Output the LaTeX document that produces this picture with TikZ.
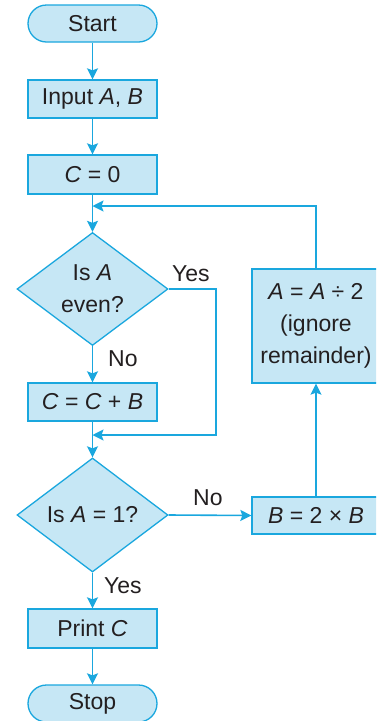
\documentclass[tikz,border=0pt]{standalone}
\usepackage{fontspec}
\setmainfont{Liberation Sans}
\usetikzlibrary{shapes.geometric,arrows.meta}
\definecolor{lineblue}{HTML}{1AA7DE}
\definecolor{fillblue}{HTML}{C6E7F5}
\definecolor{txt}{HTML}{231F20}
\tikzset{
  base/.style={draw=lineblue, fill=fillblue, line width=1.3pt, text=txt, font=\fontsize{23}{32}\selectfont, inner sep=0pt},
  procbox/.style={base, rectangle, minimum width=129pt, minimum height=38pt},
  termbox/.style={base, rectangle, rounded corners=18.5pt, minimum width=129pt, minimum height=37pt},
  decbox/.style={base, diamond, minimum width=151pt, minimum height=113pt, align=center},
  flow/.style={draw=lineblue, line width=1.6pt, -{Stealth[length=11pt,width=11pt,inset=2pt]}},
  plain/.style={draw=lineblue, line width=1.6pt},
  lbl/.style={text=txt, font=\fontsize{23}{32}\selectfont, inner sep=0pt, anchor=base west}
}
\newcommand{\vA}{\textit{A}}
\newcommand{\vB}{\textit{B}}
\newcommand{\vC}{\textit{C}}
\begin{document}
\begin{tikzpicture}[x=1pt,y=1pt]
\clip (0,0) rectangle (376,-721);
\node[termbox] (start) at (92.5,-23.5) {Start};
\node[procbox] (input) at (92.5,-99) {Input \vA, \vB};
\node[procbox, minimum height=39pt] (c0) at (92.5,-174.5) {\vC\ = 0};
\coordinate (m1) at (92.5,-206);
\node[decbox] (d1) at (92.5,-289) {Is \vA\\even?};
\node[procbox] (ccb) at (92.5,-402) {\vC\ = \vC\ + \vB};
\coordinate (m2) at (92.5,-435);
\node[decbox, minimum height=114pt] (d2) at (92.5,-515) {Is \vA\ = 1?};
\node[procbox, minimum height=39pt] (print) at (92.5,-628.5) {Print \vC};
\node[termbox] (stop) at (92.5,-703.5) {Stop};
\node[procbox, minimum width=128pt, minimum height=37pt] (bx) at (316,-515.5) {\vB\ = 2 × \vB};
\node[procbox, minimum width=128pt, minimum height=114pt, align=center] (ax) at (316,-326) {\vA\ = \vA\ ÷ 2\\(ignore\\remainder)};
\coordinate (yr) at (216,-435);

\draw[flow] (start) -- (input);
\draw[flow] (input) -- (c0);
\draw[flow] (c0) -- (d1);
\draw[flow] (d1) -- (ccb);
\draw[flow] (ccb) -- (d2);
\draw[flow] (d2) -- (print);
\draw[flow] (print) -- (stop);
\draw[flow] (d2.east) -- (bx.west);
\draw[flow] (bx.north) -- (ax.south);
\draw[flow] (ax.north) |- (m1);
\draw[flow] (d1.east) -| (yr) -- (m2);

\node[lbl] (yes1) at (172,-281) {Yes};
\node[lbl] (no1) at (108,-366.5) {No};
\node[lbl] (no2) at (193,-505) {No};
\node[lbl] (yes2) at (104,-593) {Yes};
\end{tikzpicture}
\end{document}
